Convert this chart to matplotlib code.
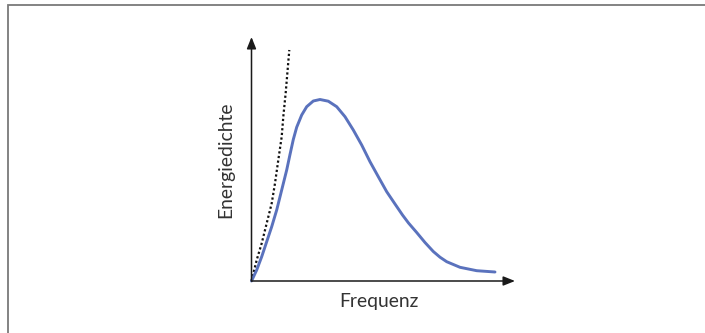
import matplotlib
matplotlib.use("Agg")
import matplotlib.pyplot as plt
from matplotlib.patches import Rectangle

# Planck curve (blue) (arbitrary units)
planck_x = [0, 5.2, 10.2, 15.2, 20.2, 25.2, 30.2, 35.2, 38.5, 41.8, 45.2, 50.2, 55.2,
            61.8, 68.5, 76.8, 85.2, 93.5, 101.8, 110.2, 118.5, 126.8, 135.2, 143.5,
            151.0, 157.0, 165.2, 173.5, 181.8, 188.5, 195.2, 208.5, 225.2, 243.5]
planck_y = [0, 11, 24.3, 39.3, 54.3, 71, 91, 111, 126.5, 141.5, 153.8, 166, 174.3,
            180, 181.5, 179.8, 174.3, 164.3, 151, 136, 119.3, 104.3, 89.3, 77,
            66, 58, 48.5, 38.5, 29.5, 23.8, 19.3, 13.7, 10.3, 9]

# Rayleigh-Jeans curve (dotted)
rj_x = [0, 5.2, 10.2, 15.2, 20.2, 23.5, 26.8, 30.2, 31.8, 34.2, 37.8]
rj_y = [0, 21, 37.7, 57.7, 77.7, 97.7, 121, 144.3, 164.3, 188.3, 231]

x_axis_end = 263.5
y_axis_end = 244
x_label = "Frequenz"
y_label = "Energiedichte"

fig = plt.figure(figsize=(7.05, 3.33), dpi=100)
ax = fig.add_axes([0, 0, 1, 1])
ax.set_xlim(-251.5, 705 - 251.5)
ax.set_ylim(-52, 281)
ax.axis("off")

# frame (top and left edges visible)
fig.patches.append(Rectangle((8 / 705, -0.2), 2, (333 - 5) / 333 + 0.2,
                             transform=fig.transFigure, fill=False,
                             edgecolor="#7a7a7a", linewidth=1.3))

axis_color = "#1a1a1a"
arrowprops = dict(arrowstyle="-|>,head_length=0.7,head_width=0.28",
                  color=axis_color, lw=1.1, shrinkA=0, shrinkB=0)
ax.annotate("", xy=(x_axis_end, 0), xytext=(0, 0), arrowprops=arrowprops)
ax.annotate("", xy=(0, y_axis_end), xytext=(0, 0), arrowprops=arrowprops)

ax.plot(rj_x, rj_y, color="#111111", lw=1.6, linestyle=(0, (1, 1.1)),
        solid_capstyle="butt", dash_capstyle="butt")
ax.plot(planck_x, planck_y, color="#5a72bd", lw=2.1, solid_joinstyle="round",
        solid_capstyle="round")

font = ["Lato", "DejaVu Sans"]
ax.text(127, -21, x_label, ha="center", va="center", fontsize=13.9,
        color="#333333", family=font)
ax.text(-26, 121, y_label, ha="center", va="center", rotation=90,
        fontsize=13.9, color="#333333", family=font)

fig.savefig("out.png", dpi=100)
